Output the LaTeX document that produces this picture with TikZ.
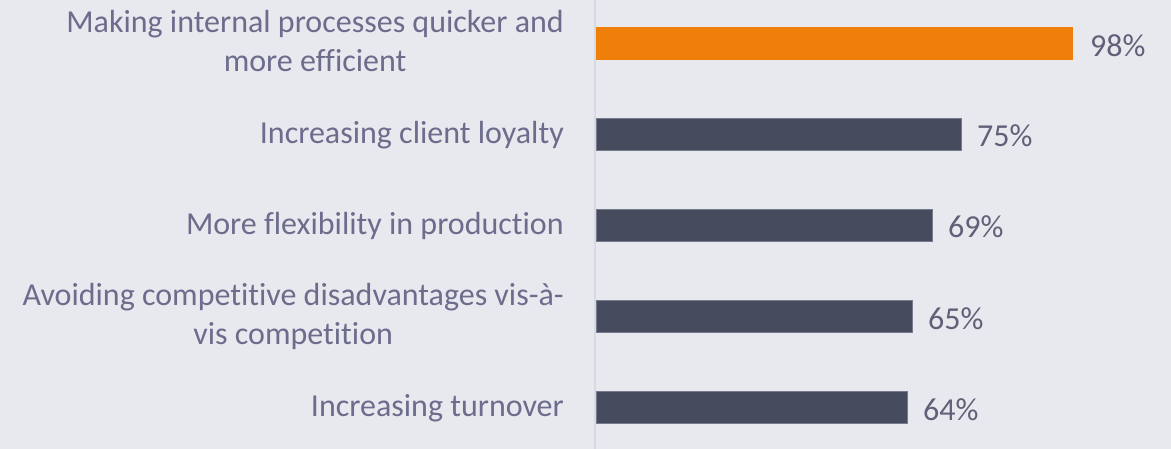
\documentclass[tikz,border=0pt]{standalone}
\usepackage{fontspec}
\setmainfont{Carlito}[Ligatures={NoCommon,NoRare,NoDiscretionary}]
\definecolor{bgc}{HTML}{E8E9EF}
\definecolor{orangec}{HTML}{F07E0A}
\definecolor{darkc}{HTML}{474B5E}
\definecolor{edgec}{HTML}{767A8E}
\definecolor{labc}{HTML}{6C6C8C}
\definecolor{numc}{HTML}{606178}
\definecolor{axisc}{HTML}{D8D9E1}
\begin{document}
\begin{tikzpicture}[x=1pt,y=-1pt,
  cat/.style={anchor=base east,inner sep=0pt,align=center,text=labc,font=\fontsize{32}{39}\selectfont},
  num/.style={anchor=west,inner sep=0pt,text=numc,font=\fontsize{32}{39}\selectfont},
  darkbar/.style={anchor=west,inner sep=0pt,outer sep=0pt,minimum height=32pt,fill=darkc,draw=edgec,line width=0.8pt},
  hibar/.style={anchor=west,inner sep=0pt,outer sep=0pt,minimum height=33pt,fill=orangec}]
\fill[bgc] (0,0) rectangle (1171,449);
\useasboundingbox (0,0) rectangle (1171,449);
\coordinate (axtop) at (594.5,0);
\coordinate (axbot) at (594.5,449);
\draw[axisc,line width=2pt] (axtop) -- (axbot);
% bars
\node[hibar,minimum width=477pt] (b1) at (596,43.5) {};
\node[darkbar,minimum width=365pt] (b2) at (596,134) {};
\node[darkbar,minimum width=336pt] (b3) at (596,225) {};
\node[darkbar,minimum width=316pt] (b4) at (596,316.5) {};
\node[darkbar,minimum width=311pt] (b5) at (596,407.5) {};
% values
\node[num] (v1) at ([xshift=17pt,yshift=-2pt]b1.east) {98\%};
\node[num] (v2) at ([xshift=16pt,yshift=-2pt]b2.east) {75\%};
\node[num] (v3) at ([xshift=16pt,yshift=-2pt]b3.east) {69\%};
\node[num] (v4) at ([xshift=16pt,yshift=-2pt]b4.east) {65\%};
\node[num] (v5) at ([xshift=16pt,yshift=-2pt]b5.east) {64\%};
% categories (anchored at the baseline of the last line)
\node[cat] (l1) at (564,72) {Making internal processes quicker and\\more efficient};
\node[cat] (l2) at (564,143.2) {Increasing client loyalty};
\node[cat] (l3) at (564,234.2) {More flexibility in production};
\node[cat] (l4) at (564,344.8) {Avoiding competitive disadvantages vis-à-\\vis competition};
\node[cat] (l5) at (564,416.7) {Increasing turnover};
\end{tikzpicture}
\end{document}
